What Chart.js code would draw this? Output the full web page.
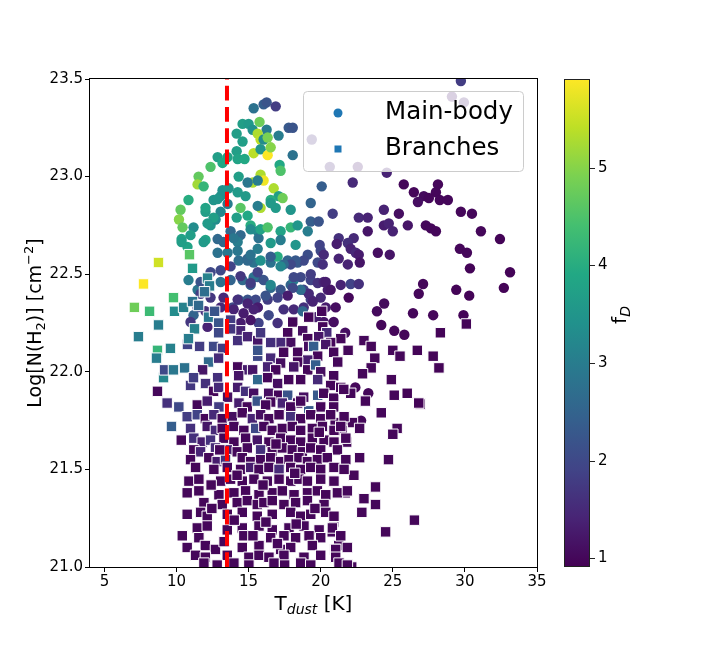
<!DOCTYPE html>
<html>
<head>
<meta charset="utf-8">
<title>Log N(H2) vs T_dust</title>
<script src="https://cdn.jsdelivr.net/npm/chart.js@4.4.0/dist/chart.umd.min.js"></script>
<style>
    html, body { margin: 0; padding: 0; background: #fff; }
    #wrap { width: 720px; height: 648px; position: relative; }
</style>
</head>
<body>
<div id="wrap"><canvas id="myChart" width="720" height="648"></canvas></div>
<script>
// axis ticks and names
const xTicks = [5, 10, 15, 20, 25, 30, 35];
const yTicks = [21.0, 21.5, 22.0, 22.5, 23.0, 23.5];
const cbTicks = [1, 2, 3, 4, 5];
const seriesNames = ['Main-body', 'Branches'];
const fRange = [0.91, 5.91];   // colour scale of f_D
const tCut = 13.5;             // dashed temperature line

// [T_dust, log N(H2), f_D]
const mainBody = [
    [15.35,23.35,2.8],[16.04,23.37,2.4],[16.25,23.38,2.2],[16.88,23.36,1.8],
    [15.76,23.28,4.8],[14.58,23.27,3.7],[15.0,23.27,3.6],[15.28,23.24,3.4],
    [14.17,23.22,3.7],[16.25,23.24,3.0],[17.08,23.21,3.0],[17.78,23.25,2.3],
    [18.06,23.25,2.2],[15.63,23.22,5.3],[15.83,23.19,5.4],[16.04,23.19,3.3],
    [16.32,23.20,4.9],[14.58,23.18,3.7],[15.35,23.12,5.4],[15.83,23.14,3.5],
    [16.32,23.11,5.9],[16.53,23.15,5.0],[14.17,23.13,3.7],[14.24,23.09,3.8],
    [14.72,23.09,3.9],[18.06,23.11,2.8],[17.15,23.06,3.9],[17.22,23.03,4.5],
    [13.54,23.10,3.8],[12.85,23.10,3.7],[13.19,23.07,3.9],[12.36,23.05,4.5],
    [11.53,23.00,4.7],[11.46,22.96,5.2],[11.88,22.95,4.2],[15.83,23.01,5.3],
    [16.04,22.98,5.8],[15.28,22.97,5.3],[14.93,22.97,2.9],[15.63,22.98,3.0],
    [16.74,22.94,5.3],[17.08,22.90,3.7],[17.36,22.89,4.8],[15.83,22.84,5.3],
    [17.92,22.83,3.5],[16.53,22.88,4.0],[16.88,22.84,3.6],[14.24,22.92,3.6],
    [14.44,22.84,4.6],[14.93,22.80,3.9],[10.83,22.88,4.0],[10.28,22.83,4.7],
    [10.17,22.78,5.0],[12.57,22.88,3.5],[13.06,22.90,3.4],[13.54,22.86,3.0],
    [11.18,22.74,3.3],[10.35,22.68,3.8],[10.76,22.64,3.8],[12.01,22.675,3.8],
    [12.36,22.75,3.5],[12.71,22.78,3.3],[13.06,22.82,3.2],[12.01,22.82,3.7],
    [12.85,22.885,3.5],[13.19,22.93,3.4],[13.61,22.94,3.5],[14.79,22.90,3.6],
    [14.31,23.00,3.7],[15.63,22.85,3.0],[14.17,22.79,3.7],[15.14,22.75,4.0],
    [15.63,22.72,3.3],[15.69,22.685,2.8],[13.75,22.72,2.6],[14.44,22.70,2.6],
    [14.24,22.665,3.0],[13.26,22.665,2.6],[12.85,22.68,2.6],
    [12.01,22.84,3.8],[12.57,22.79,3.7],[12.15,22.76,3.6],[10.42,22.74,4.7],
    [10.97,22.70,3.7],[12.85,22.61,2.8],[13.96,22.685,2.9],[15.14,22.73,3.3],
    [15.83,22.73,3.8],[16.32,22.74,4.5],[17.22,22.72,3.8],[17.92,22.74,4.2],
    [18.40,22.75,3.5],[19.31,22.77,2.4],[19.86,22.77,2.2],[19.31,22.865,2.5],
    [16.53,22.865,3.6],[13.54,22.61,2.9],[14.31,22.57,2.7],[14.93,22.58,2.5],
    [15.35,22.56,2.8],[15.83,22.57,3.4],[16.53,22.56,2.8],[17.01,22.59,4.0],
    [17.71,22.57,2.5],[18.40,22.56,2.3],[19.10,22.60,2.1],[20.0,22.62,2.0],
    [19.79,22.56,2.0],[18.26,22.65,3.5],[17.22,22.675,3.0],[16.53,22.66,3.6],
    [10.83,22.47,3.0],[11.46,22.42,2.9],[12.15,22.43,2.7],[13.06,22.46,2.8],
    [13.75,22.47,2.5],[14.58,22.47,2.6],[15.14,22.445,2.4],[15.63,22.485,2.3],
    [16.04,22.47,2.2],[16.53,22.43,2.6],[17.22,22.42,2.2],[17.92,22.445,2.5],
    [18.13,22.47,3.0],[18.61,22.485,2.0],[19.31,22.47,1.9],[19.79,22.455,1.6],
    [20.21,22.46,1.4],[20.49,22.42,1.3],[18.82,22.42,1.9],[19.31,22.37,1.8],
    [20.0,22.38,1.5],[16.32,22.37,1.8],[15.63,22.33,2.0],[14.93,22.37,2.2],
    [14.31,22.37,2.4],[13.89,22.33,2.0],[17.43,22.32,1.6],[18.13,22.32,1.5],
    [18.82,22.33,1.6],[17.01,22.38,1.9],
    [20.07,22.95,2.4],[20.83,22.81,1.8],[19.10,22.72,3.0],[19.93,22.65,1.9],
    [20.14,22.55,1.6],[20.21,22.60,1.5],[18.82,22.57,2.0],[18.26,22.57,2.3],
    [17.92,22.55,2.0],[17.43,22.55,2.6],[17.22,22.54,3.2],[16.53,22.59,2.4],
    [21.25,22.58,1.4],[21.88,22.55,1.4],[21.25,22.685,1.6],[22.29,22.685,1.5],
    [23.26,22.72,1.2],[21.11,22.655,1.3],[21.88,22.66,1.6],[22.08,22.63,1.4],
    [22.43,22.61,1.5],[22.64,22.60,1.3],[22.71,22.56,1.2],[23.96,22.61,1.1],
    [24.79,22.60,1.2],[22.64,22.79,1.5],[23.26,22.79,1.4],[24.38,22.83,1.4],
    [25.42,22.81,1.1],[24.38,22.75,1.3],[24.72,22.76,1.4],[25.0,22.72,1.4],
    [26.04,22.75,1.2],[27.29,22.75,1.0],[27.64,22.735,1.0],[27.99,22.72,1.0],
    [31.11,22.72,1.0],[32.43,22.68,0.95],[29.65,22.63,1.0],[30.14,22.61,1.0],
    [30.35,22.53,0.95],[33.13,22.51,0.95],[29.72,23.49,1.8],[29.10,23.41,1.3],
    [29.93,23.38,1.4],[19.38,23.19,1.6],[20.63,23.05,1.5],[22.57,23.05,1.3],
    [24.58,23.02,1.4],[22.22,22.97,1.5],[25.76,22.96,1.0],[28.13,22.96,1.0],
    [26.46,22.92,1.0],[27.15,22.90,1.05],[27.99,22.92,1.0],[26.74,22.87,1.1],
    [27.50,22.89,1.0],[28.26,22.88,1.0],[28.82,22.88,1.0],[29.72,22.82,1.0],
    [30.49,22.81,1.0],
    [27.1,22.45,1.0],[26.8,22.40,1.0],[29.4,22.42,0.95],[30.3,22.39,0.95],
    [32.7,22.43,0.95],[24.4,22.35,1.05],[23.9,22.31,1.05],[26.4,22.30,1.0],
    [27.8,22.29,1.0],[29.9,22.29,0.95],[24.2,22.24,1.0],[25.1,22.21,1.0],
    [25.8,22.19,1.0],[21.7,22.20,1.1],[22.4,21.92,1.0],[23.3,21.89,1.0],
    [22.8,21.75,1.0],
    [16.53,22.445,3.2],[15.35,22.485,2.8],[18.13,22.485,2.0],[19.31,22.50,1.8],
    [20.35,22.46,1.3],[21.39,22.445,1.4],[22.08,22.45,1.9],[22.64,22.45,1.6],
    [21.94,22.38,1.0],[19.17,22.40,1.5],[18.61,22.42,2.7],[18.06,22.43,2.0],
    [17.71,22.39,1.3],[16.18,22.39,2.2],[15.49,22.37,2.0],[16.39,22.29,2.0],
    [15.69,22.25,1.9],[17.01,22.25,1.6],[19.45,22.36,1.4],[20.35,22.33,1.3],
    [21.04,22.33,1.1],[20.90,22.255,1.1],[20.21,22.255,1.2],[19.65,22.28,1.3],
    [18.75,22.31,2.6],[20.69,22.42,1.2],
    [11.67,22.46,2.2],[12.36,22.51,2.0],[13.06,22.52,2.0],[13.75,22.54,1.9],
    [14.44,22.49,1.7],[15.14,22.455,1.8],[15.63,22.51,1.9],[14.93,22.57,2.6],
    [14.24,22.62,2.9],[15.14,22.60,2.8],[15.63,22.63,3.0],
    [11.67,22.40,1.8],[12.36,22.38,1.7],[13.26,22.38,1.5],[14.24,22.37,1.6],
    [14.93,22.35,1.4],[15.63,22.33,1.3],[11.46,22.33,1.9],[11.18,22.29,2.5],
    [12.01,22.31,1.6],[13.06,22.33,1.5],[13.96,22.32,1.4],[14.65,22.30,1.3],
    [15.35,22.32,1.4],[10.97,22.255,1.7],[12.15,22.23,1.4],[13.75,22.265,1.4],
    [14.44,22.25,1.3],[15.14,22.265,1.2],
    [10.35,22.665,3.7],[11.88,22.665,3.6]
];

const branches = [
    [8.75,22.56,5.55],[7.71,22.45,5.9],[10.90,22.60,4.6],[11.11,22.53,3.6],
    [9.79,22.38,4.4],[7.08,22.33,4.8],[8.13,22.31,4.3],[9.86,22.31,3.3],
    [10.49,22.33,3.1],[11.11,22.36,2.8],[11.53,22.34,2.6],[8.75,22.24,3.0],
    [7.36,22.18,3.0],[11.25,22.22,3.1],[12.22,22.28,2.9],[12.64,22.31,2.2],
    [12.15,22.48,3.1],[12.29,22.44,3.0],[11.94,22.41,2.7],[8.68,22.11,4.2],
    [9.58,22.12,3.1],[8.61,22.07,3.0],[9.10,21.97,3.2],[9.17,22.01,2.0],
    [9.79,22.01,2.9],[10.56,22.02,2.8],[8.68,21.90,1.0],
    [10.76,22.14,1.9],[11.60,22.13,1.8],[12.57,22.13,2.0],[13.19,22.12,1.8],
    [10.83,22.17,3.0],[12.92,22.25,2.2],[13.75,22.265,1.8],[14.44,22.21,1.4],
    [12.92,22.20,2.0],[13.75,22.22,1.7],[14.24,22.16,1.6],[14.93,22.18,1.4],
    [15.63,22.16,1.2],[12.22,22.05,2.6],[12.92,22.07,1.5],[14.24,22.025,1.0],
    [14.93,22.01,1.3],[15.28,22.01,1.2],[15.63,22.08,2.0],[11.81,22.01,1.2],
    [12.85,21.97,1.6],[14.31,21.98,1.2],[10.97,21.93,1.7],[11.18,21.97,1.8],
    [12.01,21.94,1.6],[12.57,21.90,1.0],[12.92,21.92,1.5],[14.24,21.92,1.3],
    [14.79,21.90,1.6],[15.35,21.89,1.1],[13.54,21.87,1.1],
    [20.07,22.31,1.0],[19.17,22.28,1.0],[18.06,22.255,1.0],[18.75,22.21,1.1],
    [17.71,22.20,1.0],[20.14,22.23,1.0],[20.42,22.20,1.5],[21.39,22.17,1.0],
    [20.69,22.15,1.0],[19.86,22.18,1.2],[19.10,22.17,1.0],[17.92,22.15,1.1],
    [17.22,22.15,1.5],[16.53,22.15,1.6],[15.83,22.20,1.7],[15.63,22.11,2.2],
    [16.53,22.07,1.5],[17.43,22.10,1.0],[18.40,22.10,1.0],[19.17,22.13,1.1],
    [19.51,22.13,2.4],[20.35,22.14,1.2],[20.90,22.10,1.0],[21.18,22.05,1.0],
    [19.79,22.08,1.0],[19.10,22.06,1.3],[18.40,22.05,1.0],[17.22,22.045,1.1],
    [16.32,22.025,1.4],[16.88,22.01,1.0],[18.13,22.025,1.2],[19.10,22.01,1.0],
    [19.65,22.035,2.4],[20.0,22.0,1.1],[20.90,21.98,1.0],[15.63,21.96,2.6],
    [16.32,21.97,1.0],[17.01,21.94,1.1],[17.78,21.96,1.0],[18.61,21.96,1.0],
    [19.79,21.96,1.5],[20.69,21.93,1.0],[21.39,21.92,1.0],[22.08,21.89,1.0],
    [16.39,21.89,1.1],[17.08,21.88,1.0],[17.71,21.88,2.2],[18.82,21.87,1.1],
    [19.79,21.88,2.3],[20.21,21.89,1.0],[20.90,21.865,1.0],[16.53,21.845,1.0],
    [17.36,21.83,1.5],[18.40,21.84,1.0],[19.17,21.80,2.3],[20.0,21.82,1.0],
    [20.90,21.82,1.0],
    [30.1,22.245,0.95],[28.3,22.20,0.95],[23.0,22.16,1.0],[23.5,22.13,1.0],
    [25.0,22.11,1.0],[26.7,22.11,0.95],[25.5,22.08,1.0],[27.8,22.08,0.95],
    [21.9,22.11,1.0],[23.75,22.07,1.0],[23.5,22.02,1.0],[28.2,22.02,0.95],
    [22.9,21.99,1.0],[24.9,21.96,1.0],[21.6,21.91,1.0],[25.1,21.88,1.0],
    [26.0,21.89,0.95],[26.9,21.835,0.95],[23.1,21.85,1.0],[24.2,21.79,1.0],
    [26.8,21.84,0.95],[21.0,21.74,1.0],[21.7,21.74,1.0],
    [22.2,21.74,1.0],[22.7,21.71,1.0],[25.3,21.71,1.0],[25.0,21.68,1.0],
    [21.5,21.70,1.0],[21.8,21.64,1.0],[22.7,21.56,1.0],[24.7,21.55,1.0],
    [21.7,21.55,1.0],[21.6,21.51,1.0],[22.3,21.47,1.0],[20.9,21.44,1.0],
    [23.8,21.41,1.0],[21.1,21.38,1.0],[21.7,21.38,1.0],[23.0,21.35,1.0],
    [23.8,21.32,1.0],[22.85,21.28,1.0],[26.5,21.24,1.0],[24.5,21.18,1.0],
    [20.9,21.23,1.0],[20.8,21.18,1.0],[21.25,21.11,1.0],[21.0,21.09,1.0],
    [22.15,21.0,1.0],[21.3,21.0,1.0],
    [9.35,21.84,1.6],[10.16,21.82,2.0],[11.44,21.83,1.0],[12.13,21.85,1.3],[12.94,21.82,1.8],
    [14.33,21.84,1.3],[14.91,21.82,1.0],[15.6,21.85,2.2],[16.18,21.83,1.0],[17.34,21.84,1.4],
    [17.92,21.82,1.0],[18.61,21.85,1.0],
    [10.74,21.77,1.8],[11.44,21.78,1.9],[12.0,21.76,1.0],[12.59,21.78,1.5],[13.17,21.76,1.0],
    [13.87,21.77,1.1],[14.56,21.79,1.0],[15.26,21.76,1.4],[15.83,21.78,1.1],[16.41,21.76,1.0],
    [17.11,21.78,1.0],[17.92,21.77,1.6],[18.61,21.76,1.0],[19.31,21.78,1.0],[20.0,21.76,1.0],
    [20.69,21.78,1.0],[21.62,21.77,1.0],
    [9.65,21.72,2.4],[10.97,21.71,1.6],[12.13,21.72,1.2],[12.7,21.70,1.5],[13.17,21.71,1.0],
    [13.98,21.72,1.0],[14.67,21.70,1.0],[15.49,21.71,2.0],[16.06,21.72,1.0],[16.64,21.70,1.0],
    [17.34,21.71,1.0],[18.03,21.72,1.0],[18.61,21.70,1.0],[19.42,21.71,1.0],[20.12,21.72,1.0],
    [20.92,21.70,1.0],[21.39,21.72,1.0],
    [10.33,21.65,1.0],[11.2,21.66,1.6],[11.78,21.64,1.3],[12.36,21.65,1.6],[13.29,21.66,1.0],
    [13.98,21.64,1.0],[14.79,21.66,1.0],[15.6,21.65,1.2],[16.41,21.64,1.0],[17.22,21.66,1.0],
    [17.92,21.65,1.0],[18.61,21.64,1.0],[19.42,21.66,1.0],[20.23,21.65,1.0],[20.92,21.64,1.0],
    [21.74,21.66,1.0],
    [11.2,21.60,1.0],[11.67,21.59,1.4],[12.7,21.61,1.5],[13.52,21.60,1.3],[14.21,21.59,1.0],
    [14.91,21.61,1.0],[15.83,21.60,1.6],[16.64,21.59,1.0],[17.34,21.61,1.0],[18.03,21.60,1.0],
    [18.73,21.59,1.0],[19.31,21.61,1.0],[20.0,21.60,1.0],[21.16,21.60,1.0],
    [10.97,21.55,1.0],[12.24,21.56,1.0],[12.82,21.54,1.3],[13.4,21.55,1.6],[14.56,21.56,1.0],
    [15.14,21.54,1.0],[15.83,21.55,1.0],[16.53,21.56,1.0],[17.22,21.54,1.0],[17.8,21.55,1.0],
    [18.49,21.56,1.0],[19.08,21.54,1.0],[19.77,21.55,1.0],[20.46,21.56,1.0],[21.74,21.55,1.0],
    [11.32,21.51,1.0],[12.59,21.50,1.0],[13.52,21.51,1.0],[14.44,21.50,1.0],[15.14,21.51,1.3],
    [15.72,21.50,1.0],[16.41,21.51,1.0],[17.11,21.50,1.5],[17.92,21.51,1.0],[18.61,21.50,1.0],
    [19.31,21.51,1.0],[20.0,21.50,1.0],[20.92,21.51,1.0],[21.62,21.50,1.0],
    [10.86,21.44,1.0],[11.55,21.45,1.0],[13.06,21.44,1.0],[13.75,21.45,1.0],[14.56,21.44,1.0],
    [15.37,21.45,1.0],[16.3,21.44,1.0],[17.11,21.45,1.0],[17.92,21.44,1.0],[18.49,21.45,1.0],
    [19.08,21.44,1.0],[20.0,21.45,1.0],[20.92,21.44,1.0],
    [10.74,21.38,1.0],[11.55,21.39,1.0],[12.94,21.37,1.0],[13.98,21.38,1.0],[14.79,21.39,1.0],
    [15.72,21.37,1.0],[16.64,21.38,1.0],[17.34,21.39,1.0],[18.15,21.37,1.0],[19.08,21.38,1.0],
    [19.77,21.39,1.0],[20.35,21.37,1.0],[21.16,21.38,1.0],[21.85,21.39,1.0],
    [11.9,21.33,1.0],[13.17,21.32,1.0],[14.21,21.33,1.0],[14.91,21.34,1.0],[15.6,21.32,1.0],
    [16.06,21.33,1.0],[16.64,21.34,1.0],[17.45,21.32,1.0],[18.26,21.33,1.0],[19.08,21.34,1.0],
    [20.23,21.32,1.0],
    [10.74,21.27,1.0],[11.67,21.28,1.0],[12.13,21.26,1.0],[13.52,21.27,1.0],[14.56,21.28,1.0],
    [15.6,21.26,1.0],[16.64,21.27,1.0],[17.92,21.28,1.0],[18.61,21.26,1.0],[19.31,21.27,1.0],
    [20.35,21.28,1.0],[20.92,21.26,1.0],
    [11.44,21.20,1.0],[12.13,21.21,1.0],[13.52,21.19,1.0],[14.56,21.20,1.0],[15.72,21.21,1.0],
    [16.64,21.19,1.0],[17.8,21.20,1.0],[18.84,21.21,1.0],[19.89,21.19,1.0],[20.81,21.20,1.0],
    [10.4,21.16,1.0],[11.55,21.15,1.0],[14.67,21.16,1.0],[16.53,21.15,1.0],[17.45,21.16,1.0],
    [18.26,21.15,1.0],[19.19,21.16,1.0],[20.0,21.15,1.0],[21.39,21.16,1.0],
    [10.74,21.10,1.0],[12.0,21.11,1.0],[12.7,21.09,1.0],[14.56,21.10,1.0],[15.72,21.11,1.0],
    [17.22,21.09,1.0],[17.92,21.10,1.0],[19.42,21.11,1.0],[21.04,21.09,1.0],[21.85,21.10,1.0],
    [11.32,21.06,1.0],[12.0,21.05,1.0],[13.52,21.06,1.0],[15.02,21.05,1.0],[15.72,21.06,1.0],
    [16.41,21.05,1.0],[17.45,21.06,1.0],[18.84,21.05,1.0],[20.0,21.06,1.0],[21.04,21.05,1.0],
    [11.9,21.02,1.0],[12.82,21.01,1.0],[13.98,21.02,1.0],[15.02,21.01,1.0],[16.76,21.02,1.0],
    [17.5,21.01,1.0],[18.61,21.02,1.0],[19.31,21.01,1.0],[21.27,21.02,1.0],[21.85,21.01,1.0],
    [12.4,21.42,1.0],[12.45,21.30,1.0],[13.3,21.13,1.0],[14.0,21.24,1.0],[15.3,21.16,1.0],
    [16.2,21.23,1.0],[17.0,21.12,1.0],[18.2,21.48,1.0],[16.0,21.42,1.0],[14.2,21.47,1.0],
    [19.6,21.30,1.0],[18.3,21.22,1.0],[13.0,21.60,1.0],[16.9,21.63,1.0],[19.9,21.69,1.0]
];

// viridis colour map
const viridisStops = ['#440154', '#482475', '#414487', '#355f8d', '#2a788e', '#21918c',
    '#22a884', '#44bf70', '#7ad151', '#bddf26', '#fde725'];

function hexToRgb(h) {
    return [parseInt(h.substr(1, 2), 16), parseInt(h.substr(3, 2), 16), parseInt(h.substr(5, 2), 16)];
}

function viridis(t) {
    t = Math.max(0, Math.min(1, t));
    var p = t * (viridisStops.length - 1);
    var i = Math.min(Math.floor(p), viridisStops.length - 2);
    var k = p - i;
    var a = hexToRgb(viridisStops[i]);
    var b = hexToRgb(viridisStops[i + 1]);
    var c = [0, 1, 2].map(j => Math.round(a[j] + (b[j] - a[j]) * k));
    return 'rgb(' + c[0] + ',' + c[1] + ',' + c[2] + ')';
}

function fColor(f) {
    return viridis((f - fRange[0]) / (fRange[1] - fRange[0]));
}

let toPoints = (arr) => arr.map(p => ({ x: p[0], y: p[1], f: p[2] }));

const FONT = "'DejaVu Sans', 'Liberation Sans', sans-serif";

// draws text made of pieces (sub / superscripts), left to right from x
function drawPieces(ctx, pieces, x, y, align) {
    var total = 0;
    pieces.forEach(p => {
        ctx.font = (p.italic ? 'italic ' : '') + p.size + 'px ' + FONT;
        p.w = ctx.measureText(p.t).width;
        total += p.w;
    });
    var cx = align === 'center' ? x - total / 2 : x;
    ctx.textAlign = 'left';
    ctx.textBaseline = 'alphabetic';
    pieces.forEach(p => {
        ctx.font = (p.italic ? 'italic ' : '') + p.size + 'px ' + FONT;
        ctx.fillText(p.t, cx, y + (p.dy || 0));
        cx += p.w;
    });
}

const decorations = {
    id: 'decorations',
    afterDraw(chart) {
        const ctx = chart.ctx;
        const a = chart.chartArea;
        ctx.save();

        // frame
        ctx.strokeStyle = '#000';
        ctx.lineWidth = 1;
        ctx.strokeRect(a.left - 0.5, a.top - 0.5, a.right - a.left + 1, a.bottom - a.top + 1);

        // legend
        var lx = 303.5, ly = 91.5, lw = 220, lh = 80;
        ctx.beginPath();
        ctx.roundRect(lx, ly, lw, lh, 4);
        ctx.fillStyle = 'rgba(255,255,255,0.8)';
        ctx.fill();
        ctx.strokeStyle = '#cccccc';
        ctx.stroke();
        ctx.fillStyle = '#1f77b4';
        ctx.beginPath();
        ctx.arc(338, 113, 4.5, 0, Math.PI * 2);
        ctx.fill();
        ctx.fillRect(334.5, 145.5, 7, 7);
        ctx.fillStyle = '#000';
        ctx.font = '24.5px ' + FONT;
        ctx.textAlign = 'left';
        ctx.textBaseline = 'middle';
        ctx.fillText(seriesNames[0], 385, 113);
        ctx.fillText(seriesNames[1], 385, 149);

        // colour bar
        var cbL = a.right + 27, cbW = 26, cbT = a.top, cbB = a.bottom;
        var grad = ctx.createLinearGradient(0, cbB, 0, cbT);
        viridisStops.forEach((c, i) => grad.addColorStop(i / (viridisStops.length - 1), c));
        ctx.fillStyle = grad;
        ctx.fillRect(cbL, cbT, cbW, cbB - cbT);
        ctx.strokeStyle = '#222';
        ctx.lineWidth = 1;
        ctx.strokeRect(cbL + 0.5, cbT + 0.5, cbW - 1, cbB - cbT - 1);
        ctx.fillStyle = '#000';
        ctx.font = '15px ' + FONT;
        ctx.textBaseline = 'middle';
        cbTicks.forEach(v => {
            var yy = cbB - (v - fRange[0]) / (fRange[1] - fRange[0]) * (cbB - cbT);
            ctx.beginPath();
            ctx.moveTo(cbL + cbW, Math.round(yy) + 0.5);
            ctx.lineTo(cbL + cbW + 5, Math.round(yy) + 0.5);
            ctx.stroke();
            ctx.fillText(String(v), cbL + cbW + 8, yy);
        });

        // axis titles
        ctx.fillStyle = '#000';
        drawPieces(ctx, [
            { t: 'T', size: 20 },
            { t: 'dust', size: 14, italic: true, dy: 4 },
            { t: ' [K]', size: 20 }
        ], (a.left + a.right) / 2, 610, 'center');

        ctx.save();
        ctx.translate(41, (a.top + a.bottom) / 2);
        ctx.rotate(-Math.PI / 2);
        drawPieces(ctx, [
            { t: 'Log[N(H', size: 19 },
            { t: '2', size: 13, dy: 4 },
            { t: ')] [cm', size: 19 },
            { t: '\u22122', size: 13, dy: -8 },
            { t: ']', size: 19 }
        ], 0, 0, 'center');
        ctx.restore();

        ctx.save();
        ctx.translate(626, 315);
        ctx.rotate(-Math.PI / 2);
        drawPieces(ctx, [
            { t: 'f', size: 20 },
            { t: 'D', size: 14, italic: true, dy: 4 }
        ], 0, 0, 'center');
        ctx.restore();

        ctx.restore();
    }
};

const tickFont = { family: FONT, size: 15 };

var myChart = new Chart(document.getElementById('myChart'), {
    type: 'scatter',
    data: {
        datasets: [
            {
                type: 'line',
                label: 'cut',
                data: [{ x: tCut, y: yTicks[0] }, { x: tCut, y: yTicks[yTicks.length - 1] }],
                borderColor: '#ff0000',
                borderWidth: 4,
                borderDash: [14.8, 6.4],
                pointRadius: 0,
                order: 0
            },
            {
                label: seriesNames[1],
                data: toPoints(branches),
                pointStyle: 'rect',
                pointRadius: 7.4,
                backgroundColor: ctx => ctx.raw ? fColor(ctx.raw.f) : '#1f77b4',
                borderColor: '#ffffff',
                borderWidth: 1,
                order: 1
            },
            {
                label: seriesNames[0],
                data: toPoints(mainBody),
                pointStyle: 'circle',
                pointRadius: 5.2,
                backgroundColor: ctx => ctx.raw ? fColor(ctx.raw.f) : '#1f77b4',
                borderWidth: 0,
                order: 2
            }
        ]
    },
    options: {
        responsive: false,
        animation: false,
        devicePixelRatio: 1,
        events: [],
        layout: { padding: { left: 0, top: 79, right: 183, bottom: 0 } },
        plugins: {
            legend: { display: false },
            tooltip: { enabled: false }
        },
        scales: {
            x: {
                type: 'linear',
                min: 4.0,
                max: 35,
                afterBuildTicks: s => { s.ticks = xTicks.map(v => ({ value: v })); },
                afterFit: s => { s.height = 81; },
                ticks: { font: tickFont, color: '#000', padding: 1, maxRotation: 0, callback: v => String(v) },
                grid: { display: true, drawOnChartArea: false, tickLength: 5, tickColor: '#000', color: '#000' },
                border: { display: false }
            },
            y: {
                type: 'linear',
                min: 21.0,
                max: 23.5,
                afterBuildTicks: s => { s.ticks = yTicks.map(v => ({ value: v })); },
                afterFit: s => { s.width = 90; },
                ticks: { font: tickFont, color: '#000', padding: 2, callback: v => v.toFixed(1) },
                grid: { display: true, drawOnChartArea: false, tickLength: 5, tickColor: '#000', color: '#000' },
                border: { display: false }
            }
        }
    },
    plugins: [decorations]
});
</script>
</body>
</html>
